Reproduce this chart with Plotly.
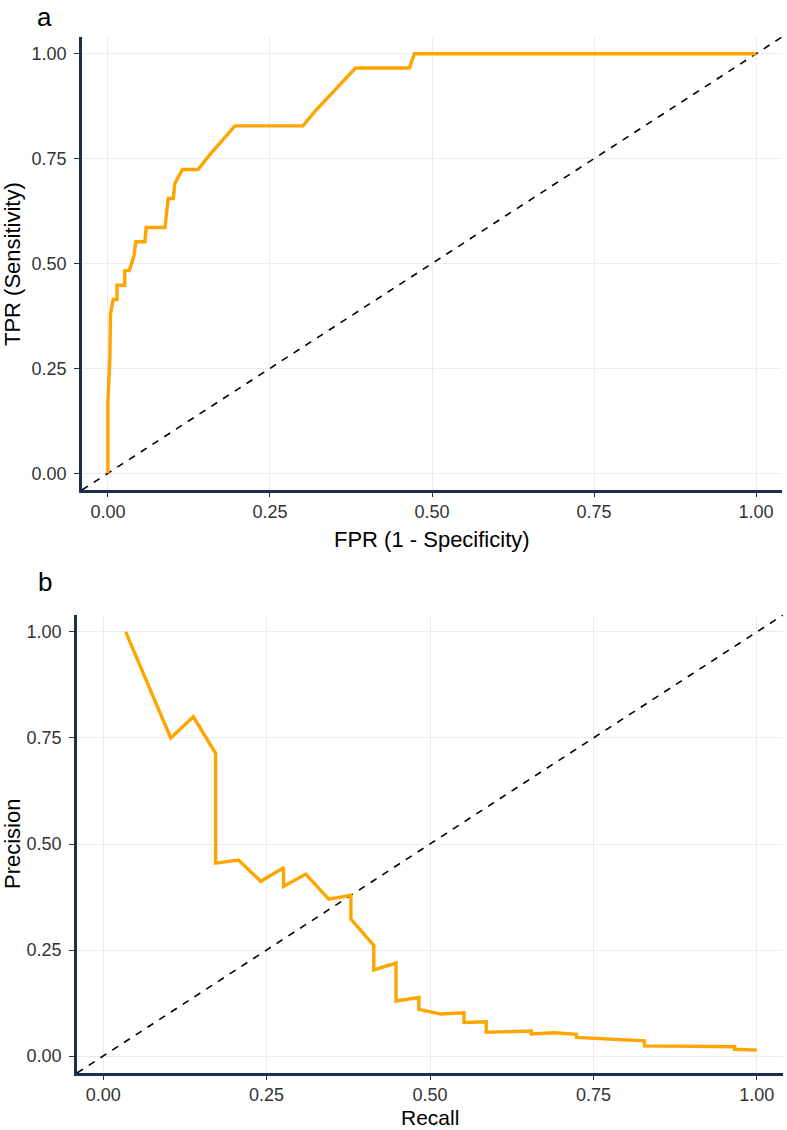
import plotly.graph_objects as go

# ---------------- data ----------------
roc_fpr = [0, 0, 0.003, 0.004, 0.008, 0.014, 0.014, 0.026, 0.026, 0.033, 0.040,
           0.043, 0.057, 0.059, 0.088, 0.093, 0.101, 0.103, 0.115, 0.139, 0.157,
           0.196, 0.301, 0.319, 0.382, 0.465, 0.473, 1.0]
roc_tpr = [0, 0.172, 0.276, 0.379, 0.414, 0.414, 0.448, 0.448, 0.483, 0.483, 0.517,
           0.552, 0.552, 0.586, 0.586, 0.655, 0.655, 0.690, 0.724, 0.724, 0.759,
           0.828, 0.828, 0.862, 0.966, 0.966, 1.0, 1.0]

pr_recall = [0.0345, 0.1034, 0.138, 0.172, 0.172, 0.207, 0.241, 0.276, 0.276, 0.310,
             0.345, 0.379, 0.379, 0.414, 0.414, 0.448, 0.448, 0.483, 0.483, 0.517,
             0.552, 0.552, 0.586, 0.586, 0.655, 0.655, 0.690, 0.724, 0.724, 0.828,
             0.828, 0.966, 0.966, 1.0]
pr_precision = [1.0, 0.75, 0.80, 0.714, 0.455, 0.462, 0.412, 0.444, 0.40, 0.429,
                0.370, 0.379, 0.323, 0.261, 0.203, 0.219, 0.130, 0.138, 0.110, 0.099,
                0.102, 0.079, 0.081, 0.056, 0.059, 0.052, 0.055, 0.051, 0.044, 0.036,
                0.024, 0.022, 0.016, 0.014]

ref_line = [-0.04, 1.04]
tick_vals = [0, 0.25, 0.5, 0.75, 1.0]
tick_text = ["0.00", "0.25", "0.50", "0.75", "1.00"]

# ---------------- layout helpers ----------------
W, H = 787, 1130
def px_x(p):
    return p / W
def px_y(p):
    return 1 - p / H

FONT = "Liberation Sans, Arial, sans-serif"
LINE_COL = "orange"
AXIS_COL = "#1c2e4a"

fig = go.Figure()

fig.add_trace(go.Scatter(x=ref_line, y=ref_line, mode="lines",
                         line=dict(color="black", width=1.6, dash="7px,7px"),
                         xaxis="x", yaxis="y", showlegend=False, hoverinfo="skip"))
fig.add_trace(go.Scatter(x=roc_fpr, y=roc_tpr, mode="lines",
                         line=dict(color=LINE_COL, width=3.4),
                         xaxis="x", yaxis="y", showlegend=False))

fig.add_trace(go.Scatter(x=ref_line, y=ref_line, mode="lines",
                         line=dict(color="black", width=1.6, dash="7px,7px"),
                         xaxis="x2", yaxis="y2", showlegend=False, hoverinfo="skip"))
fig.add_trace(go.Scatter(x=pr_recall, y=pr_precision, mode="lines",
                         line=dict(color=LINE_COL, width=3.4),
                         xaxis="x2", yaxis="y2", showlegend=False))

def axis_common(domain, anchor, standoff, ticklen):
    return dict(
        domain=domain, anchor=anchor, range=[-0.04, 1.04],
        tickvals=tick_vals, ticktext=tick_text,
        showgrid=True, gridcolor="#ebebeb", gridwidth=1,
        zeroline=False, automargin=False,
        showline=True, linecolor=AXIS_COL, linewidth=2.5,
        ticks="outside", ticklen=ticklen, tickwidth=1, tickcolor="#333333",
        ticklabelstandoff=standoff,
        tickfont=dict(family=FONT, size=18, color="#333333"),
        fixedrange=True,
    )

fig.update_layout(
    width=W, height=H,
    margin=dict(l=0, r=0, t=0, b=0),
    paper_bgcolor="white", plot_bgcolor="white",
    font=dict(family=FONT, color="black"),
    xaxis=axis_common([px_x(82), px_x(782)], "y", 0, 4),
    yaxis=axis_common([px_y(490), px_y(37)], "x", 4, 5),
    xaxis2=axis_common([px_x(77), px_x(783)], "y2", 0, 4),
    yaxis2=axis_common([px_y(1073), px_y(615)], "x2", 4, 5),
)

ann = []
def add_text(text, x, y, size, angle=0, xanchor="center", yanchor="middle"):
    ann.append(dict(text=text, x=px_x(x), y=px_y(y), xref="paper", yref="paper",
                    showarrow=False, xanchor=xanchor, yanchor=yanchor,
                    textangle=angle, font=dict(family=FONT, size=size, color="black")))

add_text("a", 35, 0, 26, xanchor="left", yanchor="top")
add_text("b", 36, 565, 26, xanchor="left", yanchor="top")
add_text("FPR (1 - Specificity)", 432, 539, 22)
add_text("TPR (Sensitivity)", 12, 264, 22, angle=-90)
add_text("Recall", 430, 1117, 21)
add_text("Precision", 12, 844, 22, angle=-90)

fig.update_layout(annotations=ann)

fig.write_html("out.html",
               config={"displayModeBar": False},
               post_script="document.body.style.margin='0';"
                           "document.body.style.overflow='hidden';")
